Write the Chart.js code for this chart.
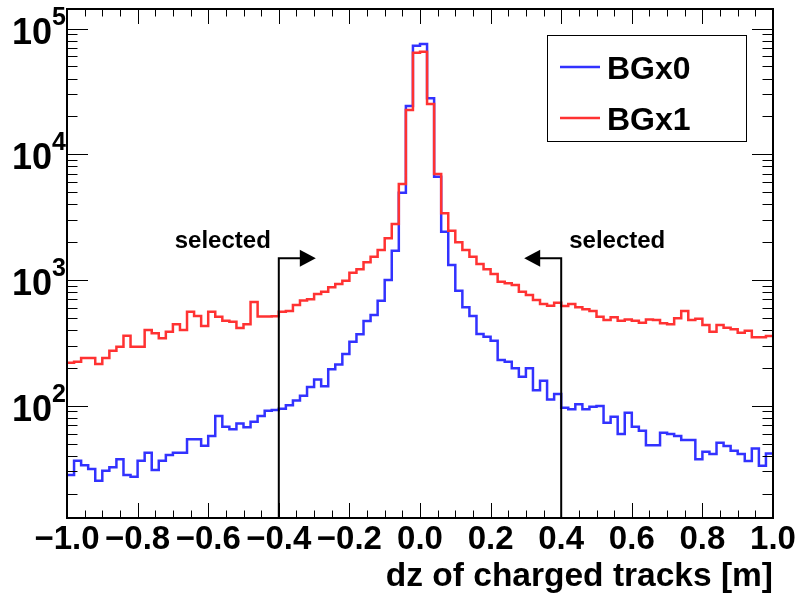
<!DOCTYPE html>
<html>
<head>
<meta charset="utf-8">
<title>dz of charged tracks</title>
<script src="https://cdn.jsdelivr.net/npm/chart.js@4.4.0/dist/chart.umd.min.js"></script>
<style>
  html, body { margin: 0; padding: 0; background: #fff; }
  canvas { display: block; }
</style>
</head>
<body>
<canvas id="myChart" width="799" height="593"></canvas>
<script>
// Histograma: 100 bins de 0.02 entre -1 y 1
const xMin = -1.0;
const binWidth = 0.02;

// BGx0 (azul)
const bgx0 = [
  28.1, 36.5, 33.7, 31.4, 25.3, 30.4, 32.4, 37.5, 28.1, 27.2,
  36.5, 42.3, 30.8, 36.5, 40.5, 42.3, 42.3, 54.1, 54.1, 48.1,
  57.4, 82.8, 68.1, 64.9, 72.4, 67.3, 74.6, 82.8, 91.2, 92.4,
  94.7, 101, 110, 120, 141, 162, 143, 195, 213, 258,
  323, 370, 472, 527, 684, 1000, 1710, 4950, 24200, 73100,
  75400, 27900, 6640, 2420, 1315, 822, 607, 518, 372, 354,
  329, 231, 224, 199, 170, 199, 133, 158, 112, 124,
  96.4, 93.6, 103, 93.6, 98.2, 99.4, 73.3, 81.7, 59.6, 88.0,
  68.1, 63.3, 48.6, 48.6, 61.0, 59.6, 57.4, 53.4, 53.4, 37.5,
  43.1, 41.3, 50.8, 47.8, 43.9, 41.3, 36.3, 45.8, 33.3, 41.8
];

// BGx1 (rojo)
const bgx1 = [
  220, 224, 240, 240, 215, 240, 274, 294, 361, 294,
  294, 400, 377, 344, 388, 444, 400, 560, 517, 431,
  560, 510, 474, 466, 415, 444, 668, 513, 513, 515,
  560, 567, 632, 687, 702, 774, 807, 875, 929, 986,
  1142, 1216, 1383, 1533, 1733, 2148, 2790, 5810, 22500, 64300,
  65500, 25100, 6970, 3400, 2466, 1995, 1733, 1533, 1340, 1216,
  1117, 968, 941, 913, 807, 760, 693, 644, 625, 660,
  621, 644, 607, 585, 567, 510, 481, 505, 474, 486,
  474, 457, 486, 481, 452, 444, 496, 567, 481, 492,
  438, 388, 438, 418, 406, 381, 395, 350, 350, 359
];

const seriesNames = ["BGx0", "BGx1"];
const xTickLabels = ["\u22121.0", "\u22120.8", "\u22120.6", "\u22120.4", "\u22120.2", "0.0", "0.2", "0.4", "0.6", "0.8", "1.0"];
const yTickExps = [2, 3, 4, 5];
const xTitle = "dz of charged tracks [m]";

// Corte de seleccion
const cutLow = -0.4;
const cutHigh = 0.4;
const cutLevel = 1490;
const cutLabel = "selected";

// Rango de ejes
const yMin = 12.8;
const yMax = 143000;

const FONT = '"Liberation Sans", Arial, sans-serif';
const BLUE = "rgb(50, 50, 255)";
const RED = "rgb(255, 50, 50)";

//? pasar los bins a puntos para la linea escalonada
function crearPasos(valores) {
  const puntos = valores.map((v, i) => ({ x: xMin + i * binWidth, y: v }));
  puntos.push({ x: xMin + valores.length * binWidth, y: valores[valores.length - 1] });
  return puntos;
}

function linea(ctx, x1, y1, x2, y2) {
  ctx.beginPath();
  ctx.moveTo(x1, y1);
  ctx.lineTo(x2, y2);
  ctx.stroke();
}

//? estilo ROOT: marco, ticks hacia adentro, etiquetas, leyenda y flechas
const estiloRoot = {
  id: "estiloRoot",
  beforeDraw(chart) {
    const ctx = chart.ctx;
    ctx.save();
    ctx.fillStyle = "#fff";
    ctx.fillRect(0, 0, chart.width, chart.height);
    ctx.restore();
  },
  afterDatasetsDraw(chart) {
    const ctx = chart.ctx;
    const a = chart.chartArea;
    const xs = chart.scales.x;
    const ys = chart.scales.y;
    ctx.save();

    // ticks eje x (cada 0.05, mayores cada 0.2)
    ctx.strokeStyle = "#000";
    ctx.lineWidth = 1;
    for (let k = 0; k <= 40; k++) {
      const px = Math.round(xs.getPixelForValue(xMin + k * 0.05)) + 0.5;
      const len = k % 4 === 0 ? 15 : 7.5;
      linea(ctx, px, a.bottom, px, a.bottom - len);
      linea(ctx, px, a.top, px, a.top + len);
    }
    // ticks eje y (log)
    for (let e = 1; e <= 5; e++) {
      for (let m = 1; m <= 9; m++) {
        const v = m * Math.pow(10, e);
        if (v < yMin || v > yMax) continue;
        const py = Math.round(ys.getPixelForValue(v)) + 0.5;
        const len = m === 1 ? 21 : 10.5;
        linea(ctx, a.left, py, a.left + len, py);
        linea(ctx, a.right, py, a.right - len, py);
      }
    }

    // marco
    ctx.lineWidth = 2;
    ctx.strokeRect(a.left, a.top, a.right - a.left, a.bottom - a.top);

    // etiquetas eje y: 10^n
    ctx.fillStyle = "#000";
    ctx.textAlign = "right";
    ctx.textBaseline = "alphabetic";
    yTickExps.forEach((e) => {
      const py = ys.getPixelForValue(Math.pow(10, e));
      ctx.font = "bold 25px " + FONT;
      const ew = ctx.measureText(String(e)).width;
      ctx.fillText(String(e), a.left - 1, py - 4);
      ctx.font = "bold 36px " + FONT;
      ctx.fillText("10", a.left - 1 - ew, py + 15);
    });

    // titulo eje x
    ctx.font = "bold 33.5px " + FONT;
    ctx.textAlign = "right";
    ctx.fillText(xTitle, a.right, 586);

    // flechas de seleccion
    const yc = ys.getPixelForValue(cutLevel);
    ctx.lineWidth = 2;
    [[cutLow, 1], [cutHigh, -1]].forEach(([cx, dir]) => {
      const px = xs.getPixelForValue(cx);
      ctx.beginPath();
      ctx.moveTo(px, a.bottom);
      ctx.lineTo(px, yc);
      ctx.lineTo(px + dir * 22, yc);
      ctx.stroke();
      ctx.beginPath();
      ctx.moveTo(px + dir * 21, yc - 8.5);
      ctx.lineTo(px + dir * 37, yc);
      ctx.lineTo(px + dir * 21, yc + 8.5);
      ctx.closePath();
      ctx.fill();
      ctx.font = "bold 24px " + FONT;
      ctx.textAlign = dir > 0 ? "right" : "left";
      ctx.fillText(cutLabel, px - dir * 8, yc - 10);
    });

    // leyenda
    ctx.lineWidth = 1;
    ctx.fillStyle = "#fff";
    ctx.fillRect(547.5, 35.5, 199, 106);
    ctx.strokeRect(547.5, 35.5, 199, 106);
    const colores = [BLUE, RED];
    const filas = [67, 118];
    seriesNames.forEach((nombre, i) => {
      ctx.strokeStyle = colores[i];
      ctx.lineWidth = 2.5;
      linea(ctx, 560, filas[i], 600, filas[i]);
      ctx.fillStyle = "#000";
      ctx.font = "bold 32px " + FONT;
      ctx.textAlign = "left";
      ctx.fillText(nombre, 607, filas[i] + 12);
    });

    ctx.restore();
  }
};

const ctx = document.getElementById("myChart");

const config = {
  type: "line",
  data: {
    datasets: [
      {
        label: seriesNames[0],
        data: crearPasos(bgx0),
        borderColor: BLUE,
        borderWidth: 2.5,
        stepped: "before",
        pointRadius: 0,
        fill: false,
        order: 2
      },
      {
        label: seriesNames[1],
        data: crearPasos(bgx1),
        borderColor: RED,
        borderWidth: 2.5,
        stepped: "before",
        pointRadius: 0,
        fill: false,
        order: 1
      }
    ]
  },
  options: {
    responsive: false,
    animation: false,
    devicePixelRatio: 1,
    layout: { padding: { top: 9, right: 26, left: 0, bottom: 0 } },
    plugins: {
      legend: { display: false },
      tooltip: { enabled: false }
    },
    scales: {
      x: {
        type: "linear",
        min: -1,
        max: 1,
        grid: { display: false, drawTicks: false },
        border: { display: false },
        ticks: {
          stepSize: 0.2,
          autoSkip: false,
          maxRotation: 0,
          padding: 2,
          color: "#000",
          font: { family: FONT, weight: "bold", size: 33 },
          callback: (v) => xTickLabels[Math.round((v - xMin) / 0.2)]
        },
        afterFit: (s) => { s.height = 75; }
      },
      y: {
        type: "logarithmic",
        min: yMin,
        max: yMax,
        grid: { display: false, drawTicks: false },
        border: { display: false },
        ticks: { display: false },
        afterFit: (s) => { s.width = 67; }
      }
    }
  },
  plugins: [estiloRoot]
};

new Chart(ctx, config);
</script>
</body>
</html>
